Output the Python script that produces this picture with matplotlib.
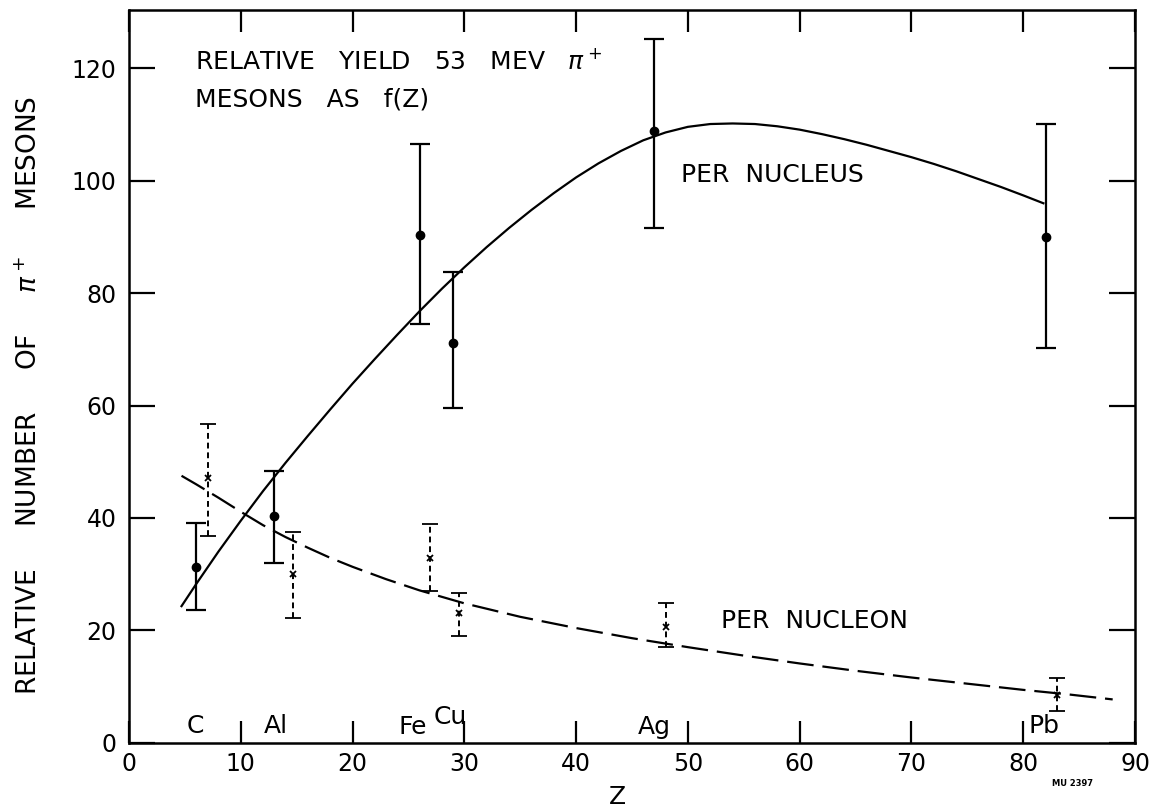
import matplotlib
matplotlib.use("Agg")
import matplotlib.pyplot as plt
import numpy as np

# datos leidos de la figura
# por nucleo (circulos, barras solidas)
z_nucleo = [6, 13, 26, 29, 47, 82]
y_nucleo = [31.3, 40.3, 90.3, 71.2, 108.8, 90.0]
lo_nucleo = [23.7, 32.0, 74.6, 59.6, 91.6, 70.3]
hi_nucleo = [39.1, 48.4, 106.5, 83.7, 125.3, 110.1]

# por nucleon (cruces, barras punteadas)
z_nucleon = [7.1, 14.7, 26.9, 29.5, 48.0, 83.0]
y_nucleon = [47.1, 30.1, 32.8, 23.0, 20.6, 8.5]
lo_nucleon = [36.8, 22.2, 27.0, 19.0, 17.1, 5.6]
hi_nucleon = [56.8, 37.5, 39.0, 26.7, 24.9, 11.6]

# curvas trazadas a mano
curva_nucleo_x = [4.7, 6, 8, 10, 12, 14, 16, 18, 20, 22, 24, 26, 28, 30, 32,
                  34, 36, 38, 40, 42, 44, 46, 48, 50, 52, 54, 56, 58, 60, 62,
                  64, 66, 68, 70, 72, 74, 76, 78, 80, 81.8]
curva_nucleo_y = [24.3, 28.2, 34.0, 39.5, 44.8, 49.8, 54.6, 59.3, 63.9, 68.3,
                  72.6, 76.8, 80.8, 84.6, 88.2, 91.6, 94.8, 97.8, 100.6, 103.1,
                  105.3, 107.2, 108.6, 109.6, 110.1, 110.2, 110.1, 109.7,
                  109.1, 108.3, 107.4, 106.4, 105.3, 104.2, 103.0, 101.7,
                  100.3, 98.9, 97.4, 96.0]
curva_nucleon_x = [4.7, 6, 8, 10, 12, 14, 16, 18, 20, 23, 26, 30, 35, 40, 45,
                   50, 55, 60, 65, 70, 75, 80, 84, 88]
curva_nucleon_y = [47.5, 46.0, 43.6, 41.1, 38.7, 36.6, 34.7, 32.9, 31.3, 29.1,
                   27.1, 24.8, 22.4, 20.4, 18.6, 17.0, 15.5, 14.1, 12.8, 11.6,
                   10.5, 9.4, 8.6, 7.7]

# elementos en el eje
elementos = ["C", "Al", "Fe", "Cu", "Ag", "Pb"]
elem_x = [5.9, 13.1, 25.4, 28.7, 47.0, 81.9]
elem_y = [3.0, 3.0, 2.8, 4.6, 2.8, 3.0]

x_ticks = list(range(0, 91, 10))
y_ticks = list(range(0, 121, 20))

plt.rcParams['font.family'] = ['DejaVu Sans']
plt.rcParams['mathtext.fontset'] = 'dejavusans'

fig = plt.figure(figsize=(11.62, 8.10), dpi=100)
ax = fig.add_axes([0.1110, 0.0831, 0.8658, 0.9046])

ax.plot(curva_nucleo_x, curva_nucleo_y, color='black', lw=1.6)
ax.plot(curva_nucleon_x, curva_nucleon_y, color='black', lw=1.6,
        dashes=(12, 4))

err_a = [np.array(y_nucleo) - np.array(lo_nucleo),
         np.array(hi_nucleo) - np.array(y_nucleo)]
ax.errorbar(z_nucleo, y_nucleo, yerr=err_a, fmt='o', color='black', ms=6,
            elinewidth=1.6, capsize=7, capthick=1.6)

err_b = [np.array(y_nucleon) - np.array(lo_nucleon),
         np.array(hi_nucleon) - np.array(y_nucleon)]
eb = ax.errorbar(z_nucleon, y_nucleon, yerr=err_b, fmt='x', color='black',
                 ms=5, mew=1.3, elinewidth=1.4, capsize=6, capthick=1.4)
eb[2][0].set_linestyle((0, (3, 2)))

ax.set_xlim(0, 90)
ax.set_ylim(0, 130.4)
ax.set_xticks(x_ticks)
ax.set_yticks(y_ticks)
ax.tick_params(axis='x', direction='in', length=16, width=1.6, top=True,
               labelsize=17, pad=7)
ax.tick_params(axis='y', direction='in', length=19, width=1.6, right=True,
               labelsize=17, pad=9)
for s in ax.spines.values():
    s.set_linewidth(1.8)

# textos
ax.text(5.9, 121.2, "RELATIVE   YIELD   53   MEV   $\\pi^+$", fontsize=18,
        va='center', ha='left')
ax.text(5.9, 114.5, "MESONS   AS   f(Z)", fontsize=18, va='center',
        ha='left')
ax.text(49.4, 101.1, "PER  NUCLEUS", fontsize=18, va='center', ha='left')
ax.text(53.0, 21.6, "PER  NUCLEON", fontsize=18, va='center', ha='left')
for nombre, xe, ye in zip(elementos, elem_x, elem_y):
    ax.text(xe, ye, nombre, fontsize=18, va='center', ha='center')

fig.text(617 / 1162, 1 - 797 / 810, "Z", fontsize=18, ha='center',
         va='center')
fig.text(30 / 1162, 1 - 395 / 810,
         "RELATIVE     NUMBER     OF     $\\pi^+$     MESONS", fontsize=19,
         rotation=90, ha='center', va='center')
fig.text(1072 / 1162, 1 - 784 / 810, "MU 2397", fontsize=6,
         fontweight='bold', ha='center', va='center')

fig.savefig("out.png", dpi=100)
